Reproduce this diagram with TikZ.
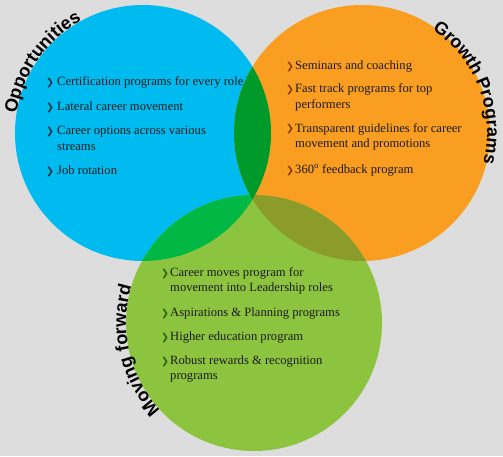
\documentclass[tikz,border=0pt]{standalone}
\usepackage{fontspec}
\setmainfont{Liberation Serif}
\setsansfont{Liberation Sans}
\newfontfamily\bulfont{DejaVu Sans}
\usetikzlibrary{decorations.text}
\definecolor{bg}{HTML}{DDDDDD}
\definecolor{cblue}{HTML}{00BBF0}
\definecolor{corange}{HTML}{FA9E22}
\definecolor{cgreen}{HTML}{8DC43F}
\definecolor{cbo}{HTML}{009A2A}
\definecolor{cbg}{HTML}{00B843}
\definecolor{cog}{HTML}{8C9C2A}
\definecolor{txt}{HTML}{1A1A1A}
\definecolor{bblue}{HTML}{15304A}
\definecolor{borange}{HTML}{8A3A0A}
\definecolor{bgreen}{HTML}{2E5E10}
\newcommand{\titlefont}{\fontsize{18}{18}\selectfont\sffamily\bfseries}
\begin{document}
\begin{tikzpicture}[x=1pt,y=1pt,
  item/.style={anchor=base west, inner sep=0pt, align=left,
    font=\fontsize{12.6}{15.5}\selectfont, text=txt},
  bul/.style={anchor=base west, inner sep=0pt,
    font=\bulfont\fontsize{9.5}{10}\selectfont, text=#1},
  title/.style={decorate, decoration={text along path, text align=center,
    text={|\titlefont|#1}}}]
\fill[bg] (0,0) rectangle (503,456);
\useasboundingbox (0,0) rectangle (503,456);
% circles
\coordinate (cb) at (143,323);
\coordinate (co) at (362,323);
\coordinate (cg) at (254,133);
\fill[cblue] (cb) circle[radius=128];
\fill[corange] (co) circle[radius=128];
\fill[cgreen] (cg) circle[radius=128];
\begin{scope}
  \clip (cb) circle[radius=128];
  \fill[cbg] (cg) circle[radius=128];
\end{scope}
\begin{scope}
  \clip (co) circle[radius=128];
  \fill[cog] (cg) circle[radius=128];
\end{scope}
\begin{scope}
  \clip (cb) circle[radius=128];
  \fill[cbo] (co) circle[radius=128];
\end{scope}
% titles
\path[title=Opportunities] (cb) ++(200:128) arc[start angle=200, end angle=90, radius=128];
\path[title=Growth Programs] (co) ++(79:125) arc[start angle=79, end angle=-37, radius=125];
\path[title=Moving forward] (cg) ++(248:128) arc[start angle=248, end angle=138, radius=128];
% blue items
\node[bul=bblue] (bb1) at (46,370) {❯};
\node[item] (tb1) at (57,370) {Certification programs for every role};
\node[bul=bblue] (bb2) at (46,345) {❯};
\node[item] (tb2) at (57,345) {Lateral career movement};
\node[bul=bblue] (bb3) at (46,321) {❯};
\node[item] (tb3) at (57,305.5) {Career options across various\\streams};
\node[bul=bblue] (bb4) at (46,282) {❯};
\node[item] (tb4) at (57,282) {Job rotation};
% orange items
\node[bul=borange] (bo1) at (286,386) {❯};
\node[item] (to1) at (295,386) {Seminars and coaching};
\node[bul=borange] (bo2) at (286,363) {❯};
\node[item] (to2) at (295,347.5) {Fast track programs for top\\performers};
\node[bul=borange] (bo3) at (286,324) {❯};
\node[item] (to3) at (295,308.5) {Transparent guidelines for career\\movement and promotions};
\node[bul=borange] (bo4) at (286,283) {❯};
\node[item] (to4) at (295,283) {360\textsuperscript{o} feedback program};
% green items
\node[bul=bgreen] (bg1) at (161,180) {❯};
\node[item] (tg1) at (170,164.5) {Career moves program for\\movement into Leadership roles};
\node[bul=bgreen] (bg2) at (161,140) {❯};
\node[item] (tg2) at (170,140) {Aspirations \& Planning programs};
\node[bul=bgreen] (bg3) at (161,116) {❯};
\node[item] (tg3) at (170,116) {Higher education program};
\node[bul=bgreen] (bg4) at (161,92) {❯};
\node[item] (tg4) at (170,76.5) {Robust rewards \& recognition\\programs};
\end{tikzpicture}
\end{document}
